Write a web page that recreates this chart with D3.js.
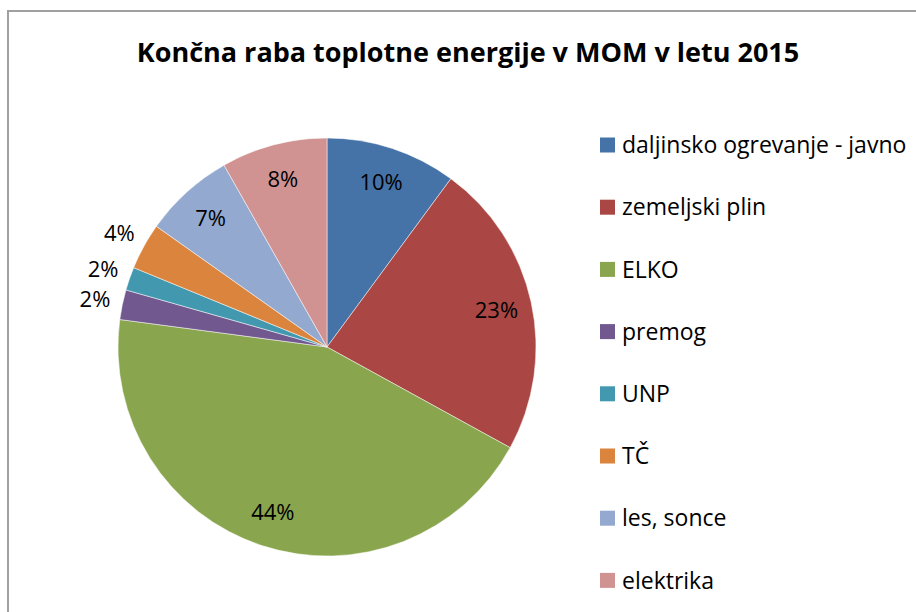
<!DOCTYPE html>
<html>
<head>
<meta charset="utf-8">
<script src="https://cdn.jsdelivr.net/npm/d3@7"></script>
<style>
  body { margin: 0; background: #fff; }
  text { font-family: "Open Sans", "Noto Sans", sans-serif; fill: #000; }
</style>
</head>
<body>
<div id="viz"></div>
<script>
// data (share of final heat use, %)
var categories = ["daljinsko ogrevanje - javno", "zemeljski plin", "ELKO", "premog", "UNP", "TČ", "les, sonce", "elektrika"];
var values = [10.1, 22.9, 44.1, 2.3, 1.8, 3.6, 7.0, 8.2];
var colors = ["#4572A7", "#AA4643", "#89A54E", "#71588F", "#4198AF", "#DB843D", "#93A9CF", "#D19392"];
var title = "Končna raba toplotne energije v MOM v letu 2015";

var width = 916, height = 612;
var cx = 327, cy = 347, radius = 209;

var svg = d3.select("#viz")
  .append("svg")
  .attr("width", width)
  .attr("height", height);

// chart frame (cut off at right and bottom like the source)
svg.append("rect")
  .attr("x", 8).attr("y", 11)
  .attr("width", 940).attr("height", 640)
  .style("fill", "#fff")
  .style("stroke", "#a0a0a0")
  .style("stroke-width", 2);

svg.append("text")
  .attr("x", 468).attr("y", 62)
  .attr("text-anchor", "middle")
  .style("font-size", "27px")
  .style("font-weight", "bold")
  .text(title);

var data = categories.map(function (c, i) { return { name: c, value: values[i], color: colors[i] }; });
var total = d3.sum(values);

var pie = d3.pie().sort(null).value(function (d) { return d.value; });
var arc = d3.arc().innerRadius(0).outerRadius(radius);
var inLabel = d3.arc().innerRadius(radius * 0.83).outerRadius(radius * 0.83);
var outLabel = d3.arc().innerRadius(radius + 28).outerRadius(radius + 28);

var g = svg.append("g").attr("transform", "translate(" + cx + "," + cy + ")");
var arcs = pie(data);

g.selectAll("path.slice")
  .data(arcs)
  .enter().append("path")
  .attr("class", "slice")
  .attr("d", arc)
  .style("fill", function (d) { return d.data.color; })
  .style("stroke", "#fff")
  .style("stroke-width", 0.5);

g.selectAll("text.lbl")
  .data(arcs)
  .enter().append("text")
  .attr("class", "lbl")
  .attr("transform", function (d) {
    var p = d.data.value < 5 ? outLabel.centroid(d) : inLabel.centroid(d);
    return "translate(" + p[0] + "," + p[1] + ")";
  })
  .attr("text-anchor", "middle")
  .attr("dy", "0.36em")
  .style("font-size", "22px")
  .text(function (d) { return Math.round(d.data.value / total * 100) + "%"; });

// legend
var legend = svg.append("g").attr("transform", "translate(600,145)");
var rows = legend.selectAll("g.row")
  .data(data)
  .enter().append("g")
  .attr("class", "row")
  .attr("transform", function (d, i) { return "translate(0," + (i * 62.2) + ")"; });

rows.append("rect")
  .attr("x", 0).attr("y", -7.5)
  .attr("width", 15).attr("height", 15)
  .style("fill", function (d) { return d.color; });

rows.append("text")
  .attr("x", 22).attr("y", 0)
  .attr("dy", "0.36em")
  .style("font-size", "23px")
  .text(function (d) { return d.name; });
</script>
</body>
</html>
